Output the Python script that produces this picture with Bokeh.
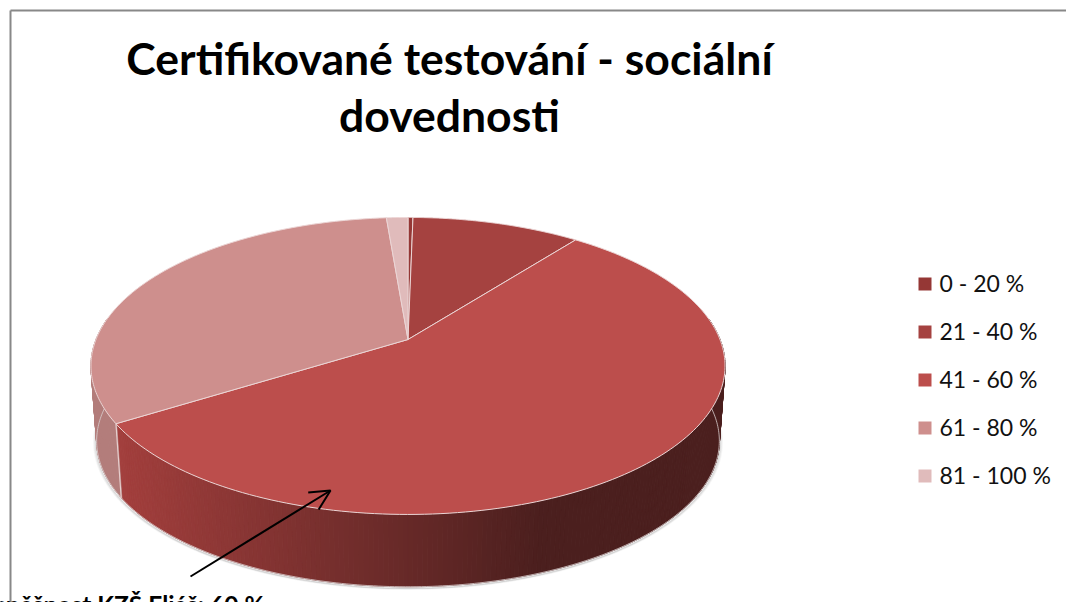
import numpy as np
from bokeh.plotting import figure
from bokeh.models import Arrow, OpenHead, Range1d
from bokeh.core.properties import value
from bokeh.embed import file_html
from bokeh.resources import INLINE

categories = ["0 - 20 %", "21 - 40 %", "41 - 60 %", "61 - 80 %", "81 - 100 %"]
shares = [0.3, 10.2, 55.6, 32.6, 1.3]
colors = ["#953735", "#A54240", "#BC4E4C", "#CE8F8D", "#E0BBBB"]
title_lines = ["Certifikované testování - sociální", "dovednosti"]
note = "Úspěšnost KZŠ Eliáš: 60 %"

W, H = 1066, 602
p = figure(width=W, height=H, output_backend="svg", toolbar_location=None,
           x_range=Range1d(0, W), y_range=Range1d(H, 0), x_axis_type="linear",
           min_border=0, outline_line_color=None)
p.axis.visible = False
p.grid.visible = False
p.styles = {"position": "absolute", "left": "0px", "top": "0px"}

# frame
p.line([10, 10], [10, H], line_color="#888888", line_width=2)
p.line([10, W], [10, 10], line_color="#888888", line_width=2)

# perspective disc
X0, Y0, A, B, K = 407.5, 339.0, 312.0, 143.8, 0.178
DEPTH = 75.0
SHRINK = 0.982
CY = Y0 + 26.5


def rim(theta):
    X, Y = np.sin(theta), np.cos(theta)
    w = 1 + K * Y
    return X0 + A * X / w, Y0 - B * Y / w


def low(theta, grow=0.0):
    x, y = rim(theta)
    s = SHRINK + grow
    return X0 + (x - X0) * s, CY + (y - CY) * s + DEPTH


def mix(c1, c2, t):
    a = np.array([int(c1[i:i + 2], 16) for i in (1, 3, 5)])
    b = np.array([int(c2[i:i + 2], 16) for i in (1, 3, 5)])
    r = (a + (b - a) * t).round().astype(int)
    return "#%02x%02x%02x" % tuple(r)


cum = np.cumsum([0] + shares) / sum(shares) * 2 * np.pi

# soft shadow under the body
th = np.linspace(np.pi / 2 - .15, 3 * np.pi / 2 + .15, 240)
for grow, alpha in [(.009, .05), (.006, .09), (.003, .16)]:
    lx, ly = low(th, grow)
    p.line(lx, ly + 1, line_color="#555555", line_alpha=alpha, line_width=1.5)

# side wall: split in narrow strips to shade it across its width
strip = np.linspace(np.pi / 2 - .15, 3 * np.pi / 2 + .15, 261)
sx, sy, sc = [], [], []
for t0, t1 in zip(strip[:-1], strip[1:]):
    tm = (t0 + t1) / 2
    idx = int(np.searchsorted(cum, tm, side="right") - 1)
    xm = rim(tm)[0]
    f = np.clip((xm - 115) / (540 - 115), 0, 1)
    if idx >= 3:
        c = "#B37D7B"
    else:
        c = mix("#A33F3D", "#4B1F1E", f)
    a0, b0 = rim(t0)
    a1, b1 = rim(t1)
    c0, d0 = low(t0)
    c1, d1 = low(t1)
    sx.append([a0, a1, c1, c0])
    sy.append([b0, b1, d1, d0])
    sc.append(c)
p.patches(sx, sy, fill_color=sc, line_color=sc, line_width=1)

# highlight edges of the wall
bt = np.linspace(np.pi / 2 - .15, 3 * np.pi / 2 + .15, 240)
lx, ly = low(bt)
p.line(lx, ly, line_color="#D9D0D0", line_width=1, line_alpha=.8)
e = cum[3]
p.line(*zip(rim(e), low(e)), line_color="#E6CFCE", line_width=1.2)

# top surface
for i, col in enumerate(colors):
    t = np.linspace(cum[i], cum[i + 1], 160)
    x, y = rim(t)
    p.patch(np.r_[X0, x], np.r_[Y0, y], fill_color=col, line_color="#EBD5D5", line_width=1, line_join="round")

# callout arrow and note
p.add_layout(Arrow(end=OpenHead(size=20, line_color="#000000", line_width=2), x_start=190, y_start=576,
                   x_end=330, y_end=490, line_color="#000000", line_width=2))
p.text([264], [604], text=[note], text_align="right", text_baseline="alphabetic",
       text_font=value("Lato"), text_font_style="bold", text_font_size="24.5px", text_color="#000000")

# title
p.text([449, 449], [57, 114], text=title_lines, text_align="center", text_baseline="alphabetic",
       text_font=value("Lato"), text_font_style="bold", text_font_size="44.5px", text_color="#000000")

# legend
ly0 = [283.5 + 48 * i for i in range(len(categories))]
p.scatter([924.5] * 5, ly0, marker="square", size=13, fill_color=colors, line_color=None)
p.text([939] * 5, [v - 1 for v in ly0], text=categories, text_baseline="alphabetic",
       text_font=value("Lato"), text_font_size="23px", text_color="#111111")

open("out.html", "w").write(file_html(p, INLINE))
